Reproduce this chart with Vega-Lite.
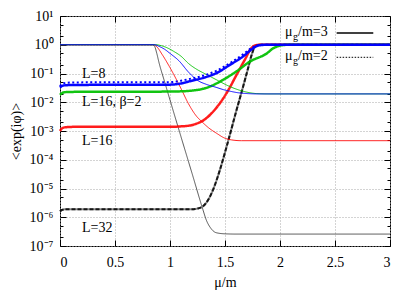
{
  "$schema": "https://vega.github.io/schema/vega-lite/v6.json",
  "width": 330,
  "height": 230,
  "autosize": {"type": "none"},
  "padding": {"left": 60, "top": 16, "right": 25, "bottom": 45},
  "background": "white",
  "config": {"view": {"stroke": "#000", "strokeWidth": 1}, "font": "Liberation Serif"},
  "datasets": {
    "curves": [
      {"s":"a_tk","x":0,"y":1},{"s":"a_tk","x":0.84,"y":1},{"s":"a_tk","x":0.86,"y":0.88},{"s":"a_tk","x":0.88,"y":0.5},{"s":"a_tk","x":0.9,"y":0.24},{"s":"a_tk","x":0.95,"y":0.053},{"s":"a_tk","x":1.0,"y":0.012},{"s":"a_tk","x":1.1,"y":0.00063},{"s":"a_tk","x":1.2,"y":0.000034},{"s":"a_tk","x":1.3,"y":0.0000018},{"s":"a_tk","x":1.33,"y":0.0000008},{"s":"a_tk","x":1.37,"y":0.00000042},{"s":"a_tk","x":1.42,"y":0.00000029},{"s":"a_tk","x":1.5,"y":0.000000265},{"s":"a_tk","x":1.6,"y":0.00000026},{"s":"a_tk","x":3,"y":0.00000026},

      {"s":"b_k3","x":0,"y":0.0000016},{"s":"b_k3","x":0.02,"y":0.0000018},{"s":"b_k3","x":0.05,"y":0.0000019},{"s":"b_k3","x":0.5,"y":0.0000019},{"s":"b_k3","x":1.2,"y":0.0000019},{"s":"b_k3","x":1.25,"y":0.000002},{"s":"b_k3","x":1.3,"y":0.0000024},{"s":"b_k3","x":1.35,"y":0.0000042},{"s":"b_k3","x":1.4,"y":0.000011},{"s":"b_k3","x":1.45,"y":0.00004},{"s":"b_k3","x":1.5,"y":0.00018},{"s":"b_k3","x":1.55,"y":0.00089},{"s":"b_k3","x":1.6,"y":0.0046},{"s":"b_k3","x":1.65,"y":0.022},{"s":"b_k3","x":1.7,"y":0.11},{"s":"b_k3","x":1.75,"y":0.55},{"s":"b_k3","x":1.77,"y":0.85},{"s":"b_k3","x":1.79,"y":0.97},{"s":"b_k3","x":1.82,"y":1},{"s":"b_k3","x":3,"y":1},

      {"s":"c_k2","x":0,"y":0.0000016},{"s":"c_k2","x":0.02,"y":0.0000018},{"s":"c_k2","x":0.05,"y":0.0000019},{"s":"c_k2","x":0.5,"y":0.0000019},{"s":"c_k2","x":1.2,"y":0.0000019},{"s":"c_k2","x":1.25,"y":0.000002},{"s":"c_k2","x":1.3,"y":0.0000024},{"s":"c_k2","x":1.35,"y":0.0000042},{"s":"c_k2","x":1.4,"y":0.000011},{"s":"c_k2","x":1.45,"y":0.00004},{"s":"c_k2","x":1.5,"y":0.00018},{"s":"c_k2","x":1.55,"y":0.00089},{"s":"c_k2","x":1.6,"y":0.0046},{"s":"c_k2","x":1.65,"y":0.022},{"s":"c_k2","x":1.7,"y":0.11},{"s":"c_k2","x":1.75,"y":0.55},{"s":"c_k2","x":1.77,"y":0.85},{"s":"c_k2","x":1.79,"y":0.97},{"s":"c_k2","x":1.82,"y":1},{"s":"c_k2","x":3,"y":1},

      {"s":"d_tr","x":0,"y":1},{"s":"d_tr","x":0.85,"y":1},{"s":"d_tr","x":0.88,"y":0.85},{"s":"d_tr","x":0.93,"y":0.45},{"s":"d_tr","x":1.0,"y":0.16},{"s":"d_tr","x":1.1,"y":0.03},{"s":"d_tr","x":1.167,"y":0.009},{"s":"d_tr","x":1.24,"y":0.0033},{"s":"d_tr","x":1.29,"y":0.0021},{"s":"d_tr","x":1.35,"y":0.0013},{"s":"d_tr","x":1.424,"y":0.00083},{"s":"d_tr","x":1.5,"y":0.00056},{"s":"d_tr","x":1.56,"y":0.00049},{"s":"d_tr","x":1.65,"y":0.00046},{"s":"d_tr","x":3,"y":0.00046},

      {"s":"e_r3","x":0,"y":0.001},{"s":"e_r3","x":0.02,"y":0.00125},{"s":"e_r3","x":0.05,"y":0.00135},{"s":"e_r3","x":0.15,"y":0.0014},{"s":"e_r3","x":1.0,"y":0.0014},{"s":"e_r3","x":1.1,"y":0.00145},{"s":"e_r3","x":1.18,"y":0.00155},{"s":"e_r3","x":1.24,"y":0.0018},{"s":"e_r3","x":1.3,"y":0.0023},{"s":"e_r3","x":1.42,"y":0.0063},{"s":"e_r3","x":1.515,"y":0.021},{"s":"e_r3","x":1.606,"y":0.091},{"s":"e_r3","x":1.68,"y":0.3},{"s":"e_r3","x":1.74,"y":0.77},{"s":"e_r3","x":1.79,"y":0.98},{"s":"e_r3","x":1.85,"y":1},{"s":"e_r3","x":3,"y":1},

      {"s":"f_tg","x":0,"y":1},{"s":"f_tg","x":0.87,"y":1},{"s":"f_tg","x":0.92,"y":0.93},{"s":"f_tg","x":1.0,"y":0.7},{"s":"f_tg","x":1.03,"y":0.6},{"s":"f_tg","x":1.1,"y":0.4},{"s":"f_tg","x":1.17,"y":0.22},{"s":"f_tg","x":1.257,"y":0.13},{"s":"f_tg","x":1.303,"y":0.105},{"s":"f_tg","x":1.424,"y":0.06},{"s":"f_tg","x":1.545,"y":0.035},{"s":"f_tg","x":1.667,"y":0.024},{"s":"f_tg","x":1.79,"y":0.02},{"s":"f_tg","x":1.9,"y":0.0195},{"s":"f_tg","x":3,"y":0.0195},

      {"s":"g_g3","x":0,"y":0.018},{"s":"g_g3","x":0.02,"y":0.021},{"s":"g_g3","x":0.05,"y":0.0225},{"s":"g_g3","x":0.15,"y":0.023},{"s":"g_g3","x":1.0,"y":0.0235},{"s":"g_g3","x":1.1,"y":0.024},{"s":"g_g3","x":1.18,"y":0.025},{"s":"g_g3","x":1.33,"y":0.0316},{"s":"g_g3","x":1.485,"y":0.061},{"s":"g_g3","x":1.606,"y":0.12},{"s":"g_g3","x":1.73,"y":0.265},{"s":"g_g3","x":1.88,"y":0.5},{"s":"g_g3","x":1.94,"y":0.76},{"s":"g_g3","x":2.0,"y":0.93},{"s":"g_g3","x":2.05,"y":0.99},{"s":"g_g3","x":2.15,"y":1},{"s":"g_g3","x":3,"y":1},

      {"s":"h_tb","x":0,"y":1},{"s":"h_tb","x":0.86,"y":1},{"s":"h_tb","x":0.9,"y":0.88},{"s":"h_tb","x":0.95,"y":0.7},{"s":"h_tb","x":1.0,"y":0.5},{"s":"h_tb","x":1.08,"y":0.28},{"s":"h_tb","x":1.17,"y":0.11},{"s":"h_tb","x":1.25,"y":0.058},{"s":"h_tb","x":1.33,"y":0.042},{"s":"h_tb","x":1.42,"y":0.033},{"s":"h_tb","x":1.485,"y":0.0275},{"s":"h_tb","x":1.55,"y":0.024},{"s":"h_tb","x":1.636,"y":0.021},{"s":"h_tb","x":1.8,"y":0.0195},{"s":"h_tb","x":3,"y":0.0195},

      {"s":"i_b3","x":0,"y":0.032},{"s":"i_b3","x":0.02,"y":0.037},{"s":"i_b3","x":0.05,"y":0.039},{"s":"i_b3","x":0.15,"y":0.04},{"s":"i_b3","x":1.0,"y":0.041},{"s":"i_b3","x":1.1,"y":0.045},{"s":"i_b3","x":1.18,"y":0.054},{"s":"i_b3","x":1.3,"y":0.07},{"s":"i_b3","x":1.424,"y":0.104},{"s":"i_b3","x":1.545,"y":0.2},{"s":"i_b3","x":1.667,"y":0.4},{"s":"i_b3","x":1.74,"y":0.68},{"s":"i_b3","x":1.8,"y":0.93},{"s":"i_b3","x":1.85,"y":0.99},{"s":"i_b3","x":1.9,"y":1},{"s":"i_b3","x":3,"y":1},

      {"s":"j_b2","x":0,"y":0.036},{"s":"j_b2","x":0.02,"y":0.044},{"s":"j_b2","x":0.05,"y":0.047},{"s":"j_b2","x":0.15,"y":0.049},{"s":"j_b2","x":1.0,"y":0.05},{"s":"j_b2","x":1.1,"y":0.056},{"s":"j_b2","x":1.18,"y":0.065},{"s":"j_b2","x":1.3,"y":0.083},{"s":"j_b2","x":1.424,"y":0.125},{"s":"j_b2","x":1.545,"y":0.23},{"s":"j_b2","x":1.667,"y":0.47},{"s":"j_b2","x":1.74,"y":0.77},{"s":"j_b2","x":1.8,"y":0.96},{"s":"j_b2","x":1.85,"y":1},{"s":"j_b2","x":3,"y":1}
    ],
    "texts": [
      {"t":"L=8","x":0.2,"y":0.068},
      {"t":"L=16, β=2","x":0.2,"y":0.0074},
      {"t":"L=16","x":0.2,"y":0.000326},
      {"t":"L=32","x":0.2,"y":0.000000314},
      {"t":"μ","x":2.045,"y":2.01},
      {"t":"/m=3","x":2.164,"y":2.01},
      {"t":"μ","x":2.045,"y":0.288},
      {"t":"/m=2","x":2.164,"y":0.288}
    ],
    "subs": [
      {"t":"g","x":2.118,"y":1.46},
      {"t":"g","x":2.118,"y":0.209}
    ],
    "keySolid": [
      {"x":2.515,"x2":2.848,"y":2.56}
    ],
    "keyDotted": [
      {"x":2.515,"x2":2.848,"y":0.366}
    ]
  },
  "resolve": {
    "axis": {"x": "independent", "y": "independent"}
  },
  "layer": [
    {
      "data": {"name": "curves"},
      "mark": {"type": "line", "interpolate": "monotone"},
      "encoding": {
        "x": {"field": "x", "type": "quantitative",
          "scale": {"domain": [0, 3], "nice": false, "zero": false},
          "axis": {"orient": "bottom", "values": [0, 0.5, 1, 1.5, 2, 2.5, 3], "format": "~g",
            "tickSize": -6, "tickColor": "#000", "tickWidth": 1, "labelPadding": 15,
            "labelFont": "Liberation Serif", "labelFontSize": 14, "labelColor": "#000",
            "grid": true, "gridColor": "#a8a8a8", "gridDash": [1, 2], "gridWidth": 1, "domain": false,
            "title": "μ/m", "titleFont": "Liberation Serif", "titleFontSize": 14, "titleFontWeight": "normal", "titleColor": "#000", "titlePadding": 6}},
        "y": {"field": "y", "type": "quantitative",
          "scale": {"type": "log", "domain": [1e-7, 10], "nice": false},
          "axis": {"orient": "left", "values": [1e-7, 1e-6, 1e-5, 1e-4, 1e-3, 1e-2, 1e-1, 1, 10],
            "labelExpr": "'10' + ['⁻⁷','⁻⁶','⁻⁵','⁻⁴','⁻³','⁻²','⁻¹','⁰','¹'][round(log(datum.value)/LN10)+7]",
            "tickSize": -6, "tickColor": "#000", "tickWidth": 1, "labelPadding": 13,
            "labelFont": "Liberation Serif", "labelFontSize": 14, "labelColor": "#000",
            "grid": true, "gridColor": "#a8a8a8", "gridDash": [1, 2], "gridWidth": 1, "domain": false,
            "title": "<exp(iφ)>", "titleFont": "Liberation Serif", "titleFontSize": 14, "titleFontWeight": "normal", "titleColor": "#000", "titlePadding": 6}},
        "color": {"field": "s", "type": "nominal", "legend": null,
          "scale": {"domain": ["a_tk","b_k3","c_k2","d_tr","e_r3","f_tg","g_g3","h_tb","i_b3","j_b2"],
            "range": ["#303030","#707070","#000000","#ff0000","#ff0000","#00c000","#00c000","#0000ff","#0000ff","#0000ff"]}},
        "opacity": {"field": "s", "type": "nominal", "legend": null,
          "scale": {"domain": ["a_tk","b_k3","c_k2","d_tr","e_r3","f_tg","g_g3","h_tb","i_b3","j_b2"],
            "range": [0.8, 1, 1, 0.5, 1, 0.5, 1, 0.5, 1, 1]}},
        "strokeWidth": {"field": "s", "type": "nominal", "legend": null,
          "scale": {"type": "ordinal", "domain": ["a_tk","b_k3","c_k2","d_tr","e_r3","f_tg","g_g3","h_tb","i_b3","j_b2"],
            "range": [1, 2, 2, 1, 2.5, 1, 2.5, 1, 2.5, 2]}},
        "strokeDash": {"field": "s", "type": "nominal", "legend": null,
          "scale": {"domain": ["a_tk","b_k3","c_k2","d_tr","e_r3","f_tg","g_g3","h_tb","i_b3","j_b2"],
            "range": [[1,0],[1,0],[4,2],[1,0],[1,0],[1,0],[1,0],[1,0],[1,0],[2,2.5]]}}
      }
    },
    {
      "data": {"name": "keySolid"},
      "mark": {"type": "rule", "color": "#000", "strokeWidth": 1.5},
      "encoding": {
        "x": {"field": "x", "type": "quantitative",
          "axis": {"orient": "top", "values": [0, 0.5, 1, 1.5, 2, 2.5, 3], "tickSize": -6, "tickColor": "#000", "labels": false, "grid": false, "domain": false, "title": null}},
        "x2": {"field": "x2"},
        "y": {"field": "y", "type": "quantitative",
          "axis": {"orient": "right", "values": [1e-7, 1e-6, 1e-5, 1e-4, 1e-3, 1e-2, 1e-1, 1, 10], "tickSize": -6, "tickColor": "#000", "labels": false, "grid": false, "domain": false, "title": null}}
      }
    },
    {
      "data": {"name": "keyDotted"},
      "mark": {"type": "rule", "color": "#000", "strokeWidth": 1, "strokeDash": [1.5, 1.5]},
      "encoding": {
        "x": {"field": "x", "type": "quantitative", "axis": null},
        "x2": {"field": "x2"},
        "y": {"field": "y", "type": "quantitative", "axis": null}
      }
    },
    {
      "data": {"name": "texts"},
      "mark": {"type": "text", "align": "left", "baseline": "alphabetic", "font": "Liberation Serif", "fontSize": 14, "color": "#000"},
      "encoding": {
        "x": {"field": "x", "type": "quantitative", "axis": null},
        "y": {"field": "y", "type": "quantitative",
          "axis": {"orient": "left", "values": [2e-7,5e-7,2e-6,5e-6,2e-5,5e-5,2e-4,5e-4,2e-3,5e-3,0.02,0.05,0.2,0.5,2,5], "tickSize": -3, "tickColor": "#000", "labels": false, "grid": false, "domain": false, "title": null}},
        "text": {"field": "t"}
      }
    },
    {
      "data": {"name": "subs"},
      "mark": {"type": "text", "align": "left", "baseline": "alphabetic", "font": "Liberation Serif", "fontSize": 10, "color": "#000"},
      "encoding": {
        "x": {"field": "x", "type": "quantitative", "axis": null},
        "y": {"field": "y", "type": "quantitative",
          "axis": {"orient": "right", "values": [2e-7,5e-7,2e-6,5e-6,2e-5,5e-5,2e-4,5e-4,2e-3,5e-3,0.02,0.05,0.2,0.5,2,5], "tickSize": -3, "tickColor": "#000", "labels": false, "grid": false, "domain": false, "title": null}},
        "text": {"field": "t"}
      }
    }
  ]
}
